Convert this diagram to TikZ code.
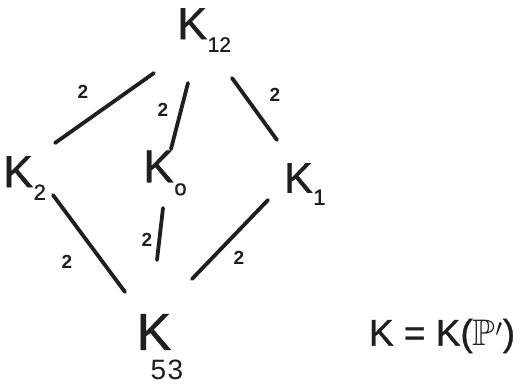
\documentclass[tikz,border=0pt]{standalone}
\usepackage{amssymb}
\usepackage{fontspec}
\setmainfont{Liberation Sans}
\newfontfamily\hand[FakeBold=0.9]{Liberation Sans}
\newcommand{\KWithSub}[3]{\fontsize{#1}{#1}\selectfont K\kern0.01em\raisebox{-0.28em}{\fontsize{#2}{#2}\selectfont #3}}
\begin{document}
\begin{tikzpicture}[x=1pt,y=-1pt,
  pen/.style={line width=3.8pt,line cap=round,draw=black!88},
  lab/.style={inner sep=0pt,font=\fontsize{19}{19}\selectfont\bfseries,text=black!88},
  fld/.style={inner sep=0pt,text=black!88,font=\hand}]
\useasboundingbox[fill=white] (0,0) rectangle (521,386);
% field nodes
\node[fld,anchor=west] (K12) at (177,30) {\KWithSub{45}{21}{12}};
\node[fld,anchor=west] (K2) at (3,178) {\KWithSub{45}{22}{2}};
\node[fld,anchor=west] (K0) at (143,173) {\KWithSub{46}{22}{o}};
\node[fld,anchor=west] (K1) at (284,184) {\KWithSub{43}{22}{1}};
\node[fld] (K) at (154,332) {\fontsize{52}{52}\selectfont K};
\node[inner sep=0pt,text=black!88] (page) at (167,370) {\fontsize{28}{28}\selectfont 5\kern0.05em 3};
\node[fld] (eq) at (442,336) {\fontsize{37}{37}\selectfont K = K($\mathbb{P}'$)};
% connector ends
\coordinate (a1) at (55,143);  \coordinate (a2) at (154,73);
\coordinate (b1) at (171,149); \coordinate (b2) at (188,83);
\coordinate (c1) at (232,78);  \coordinate (c2) at (277,140);
\coordinate (d1) at (53,195);  \coordinate (d2) at (125,292);
\coordinate (e1) at (163,208); \coordinate (e2) at (157,260);
\coordinate (f1) at (268,200); \coordinate (f2) at (192,279);
\draw[pen] (a1) -- (a2);
\draw[pen] (b1) -- (b2);
\draw[pen] (c1) -- (c2);
\draw[pen] (d1) -- (d2);
\draw[pen] (e1) -- (e2);
\draw[pen] (f1) -- (f2);
% degree labels
\node[lab] (la) at (83,92) {2};
\node[lab] (lb) at (163,110) {2};
\node[lab] (lc) at (275,95) {2};
\node[lab] (ld) at (67,262) {2};
\node[lab] (le) at (147,240) {2};
\node[lab] (lf) at (239,258) {2};
\end{tikzpicture}
\end{document}
